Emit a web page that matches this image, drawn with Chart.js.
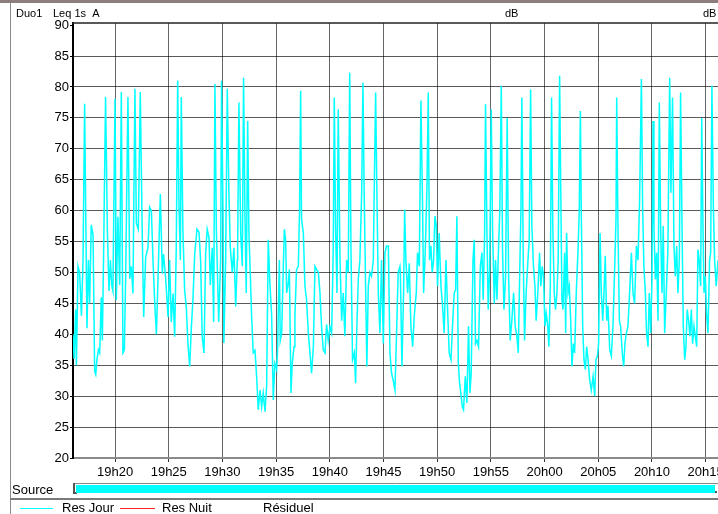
<!DOCTYPE html>
<html><head><meta charset="utf-8">
<script src="https://cdn.jsdelivr.net/npm/chart.js@4"></script>
<style>html,body{margin:0;padding:0;background:#fff;overflow:hidden}canvas{display:block}</style>
</head><body>
<canvas id="c" width="718" height="514"></canvas>
<script>
// time of each sample, seconds after 19h00
const seconds = [
965,971,980,984,993,1002,1012,1021,1030,1036,1043,1051,1058,1067,1077,1086,1092,1099,1107,1114,1123,1129,1136,1147,1157,1166,1174,1181,1188,1200,1207,1216,1226,1235,1244,1252,1259,1272,1282,1291,1300,1311,1319,1330,1341,1352,1360,1371,1384,1393,1403,1412,1421,1431,1440,1453,1464,1471,1483,1496,1505,1514,1524,1533,1542,1550,1557,1565,1570,1579,1589,1598,1607,1617,1626,1635,1645,1658,1669,1678,1687,1697,1706,1715,1725,1732,1743,1751,1758,1766,1779,1790,1795,1803,1808,1818,1827,1836,1844,1855,1864,1874,1883,
1885,1892,1902,1911,1918,1926,1933,1941,1948,1956,1963,1972,1982,1991,2000,2010,2019,2028,2038,2047,2056,2066,2075,2084,2093,2103,2108,2118,2123,2131,2140,2146,2153,2159,2168,2174,2183,2190,2200,2205,2214,2224,2231,2237,2242,2252,2261,2270,2280,2289,2298,2308,2317,2326,2336,2345,2354,2363,2373,2382,2391,2401,2410,2419,2425,2432,2440,2447,2457,2466,2475,2484,2494,2503,2511,2518,2527,2537,2544,2551,2559,2568,2578,2585,2592,2600,2607,2615,2624,2633,2643,2648,2656,2663,2671,2680,2689,2699,2708,2717,2727,2736,2745,2754,2764,2773,2782,2792,
2794,2803,2812,2818,2825,2835,2844,2853,2863,2872,2883,2890,2900,2909,2918,2924,2933,2943,2950,2957,2965,2972,2980,2987,2995,3002,3011,3021,3030,3039,3049,3058,3067,3077,3086,3095,3103,3110,3118,3125,3132,3140,3147,3157,3166,3175,3183,3190,3200,3207,3214,3222,3231,3241,3250,3257,3265,3270,3278,3285,3293,3302,3309,3319,3326,3334,3343,3350,3358,3365,3373,3382,3391,3399,3408,3417,3427,3436,3445,3453,3460,3468,3473,3481,3488,3497,3505,3514,3522,3529,3538,3546,3553,3563,3572,3579,3587,3594,3602,3609,3617,3624,3632,3639,3646,3654,3661,3669,3676,3684,3691,3697,
3703,3712,3718,3723,3731,3738,3746,3753,3761,3768,3777,3787,3794,3800,3805,3813,3820,3828,3835,3843,3852,3861,3871,3880,3887,3895,3902,3910,3917,3925,3932,3939,3947,3954,3964,3973,3982,3992,3999,4003,4010,4018,4025,4034,4042,4049,4057,4066,4075,4085,4094,4103,4113,4122,4131,4141,4148,4155,4163,4170,4178,4185,4193,4200,4206,4211,4219,4226,4234,4241,4249,4256,4263,4271,4280,4289,4299,4306,4315,4323,4330,4338,4345,4353,4360,4368,4375,4383,4390,4397,4405,4412,4420,4427,4435,4442,4450,4457,4464,4472,4478,4485,4491,4498,4505,4513,4522,4528,4535,4543,4550,4559,4569
];
// Leq 1s A, dB
const leqDb = [
40,36,44,35,51,50,43,52,77.3,60,41,52,45,57.7,56,34,33.5,36,37.5,37,46,39,53,78.4,57,47,52,48,47,78.1,45.5,59,48,79.2,37,37.5,48.8,78.4,49,51,46.6,79.7,58,57,79.2,56,42.8,52.5,54,60.6,60,52,45.5,40,49,62.7,49.8,53,49,42.8,52,42,46.6,39.6,54,81,61,52,78.4,57,47,44.5,38.6,34.8,41,45.5,53,57,56.5,52,39.6,37,53,57,55.6,48,54,42,80.5,57,42,52,81,60,38.6,52,79.7,63,54,50,54,44.5,52,
54,77.5,56.4,51,81.5,59,46.7,74.5,56.4,49.4,43,37,37.4,33.2,27.8,31,28.3,30.5,27.5,31.6,55.3,47.8,43,29.4,35.3,34.3,37.5,52,39,40.2,51,57,55.3,46.7,48.3,50.5,30.5,35.3,38,43,50.5,51,60.2,79.4,58.6,56.4,47.8,45.6,40.2,37,33.7,38,51,50.5,50,46.7,41.2,37.5,37,41.6,39,41.2,40.2,53.2,78.3,57.5,46.7,76.4,52,42.2,46.7,39.7,52,50,82.3,54.3,35.9,37,32.1,41.2,48.9,52,62.9,80.7,62.9,47.8,34.8,47.8,50,49.4,52,62.9,79.1,62.9,46.7,40.2,52,38.5,53.2,54.3,54.3,37,33.7,32.6,31,40.2,50,51,
50,34.8,46.7,60.2,52,46.7,51.5,41.3,38,43,46.7,53.2,51,77.8,61.3,46.7,53.2,64,79.1,52,54.3,50,52,59.1,57.5,47.8,56.4,47.8,44.6,40.2,52,44,37,35.9,41.6,46.7,47.2,59.1,35.3,32.1,30.5,28.3,27.8,33.2,28.9,41.3,30.5,33.7,52,55.3,38.5,39,38,51,53.2,45.6,56.4,77.2,56.4,44,50.5,76.4,57.5,45,52,45.6,54.3,60.2,80.2,53.7,44,49.4,75,49.4,39,42.2,46.7,41.3,39.7,37,48.3,60.2,78.3,52,39,46.7,51,55.3,79.6,57.5,51,47.8,42.2,47.2,53.2,47.8,51,49.4,41.3,43.4,41.6,38,47.8,78.3,57.5,46.7,44,46.7,52,81.8,61.8,45.6,
44,53.2,40.2,56.4,46.7,47.8,42.2,34.8,38.5,37,46.7,53.7,60.2,76.1,60.2,41.3,35.9,34.3,38,35.9,32.6,31,33.2,30,35.9,36.5,38.5,56.4,46.7,42.2,46.7,52.7,42.2,44.6,37.5,36.5,41.3,51,58.6,78.3,57.5,42.2,41.3,37,34.8,38.5,40.2,41.3,46.7,53.2,46.7,45,54.3,52,61.8,81.3,60.2,51,46.7,40.2,38,46.7,40.2,48.9,74.5,57.5,48.9,53.2,42.2,77.5,56.4,46.7,57.5,40.2,46.7,53.7,81.5,62.9,78.3,54.3,49.4,54.3,46.7,52,79.1,57.5,41.3,35.9,38,44,42.2,39.7,44,38.5,41.3,39.7,38,53.7,52,47.8,75,57.5,46.7,49.4,43.4,40.2,52,53.2,80.2,60.7,52,47.8,52
];
const xTickLabels = ['19h20','19h25','19h30','19h35','19h40','19h45','19h50','19h55','20h00','20h05','20h10','20h15'];
const yTickValues = [20,25,30,35,40,45,50,55,60,65,70,75,80,85,90];
const seriesNames = ['Res Jour','Res Nuit','Résiduel'];
const seriesColors = ['#00ffff','#ff2020','rgba(0,0,0,0)'];
const timeStart = 965, timeEnd = 4569, dbMin = 20, dbMax = 90.35;

const labelToSec = l => { const [h,m] = l.split('h').map(Number); return (h-19)*3600 + m*60; };
const xTickSeconds = xTickLabels.map(labelToSec);
const n = Math.min(seconds.length, leqDb.length);
const mainData = [];
for (let i=0;i<n;i++) mainData.push({x:seconds[i], y:leqDb[i]});

const FONT = '"Liberation Sans", Arial, sans-serif';
Chart.defaults.font.family = FONT;
Chart.defaults.color = '#000';

const decor = {
  id:'decor',
  beforeDraw(chart){
    const c = chart.ctx; c.save(); c.fillStyle='#fff'; c.fillRect(0,0,chart.width,chart.height); c.restore();
  },
  afterDraw(chart){
    const c = chart.ctx, a = chart.chartArea;
    c.save();
    c.fillStyle='#8c7e7a'; c.fillRect(0,0,718,3);
    c.strokeStyle='#8a8a8a'; c.lineWidth=1;
    c.beginPath(); c.moveTo(10.5,3); c.lineTo(10.5,514); c.stroke();
    c.strokeStyle='#222'; c.lineWidth=1.5;
    c.beginPath(); c.moveTo(a.left-1,a.top); c.lineTo(718,a.top); c.stroke();
    c.fillStyle='#000'; c.textBaseline='middle'; c.textAlign='left';
    c.font='11px '+FONT;
    c.fillText('Duo1',16,14);
    c.fillText('Leq 1s  A',53,14);
    c.fillText('dB',505,14);
    c.fillText('dB',703,14);
    c.font='13px '+FONT;
    c.fillText('Source',12,490);
    c.strokeStyle='#8a8a8a'; c.lineWidth=1;
    c.beginPath(); c.moveTo(73,483.5); c.lineTo(718,483.5); c.stroke();
    c.fillStyle='#555'; c.fillRect(73,483,2,11); c.fillRect(73,492,4,2);
    c.fillStyle='#00ffff'; c.fillRect(76,485,639,8);
    c.fillStyle='#555'; c.fillRect(715,491,2,2);
    c.strokeStyle='#7a7a7a'; c.lineWidth=2;
    c.beginPath(); c.moveTo(10,499); c.lineTo(718,499); c.stroke();
    const lx = [[20,53,62],[120,155,162],[210,250,263]];
    chart.data.datasets.forEach((d,i)=>{
      const [x1,x2,tx] = lx[i];
      c.strokeStyle=d.borderColor; c.lineWidth=1;
      c.beginPath(); c.moveTo(x1,508.5); c.lineTo(x2,508.5); c.stroke();
      c.fillStyle='#000'; c.font='13px '+FONT; c.textBaseline='middle';
      c.fillText(d.label,tx,508);
    });
    c.restore();
  }
};

new Chart(document.getElementById('c'), {
  type:'line',
  data:{datasets:[
    {label:seriesNames[0], data:mainData, borderColor:seriesColors[0], borderWidth:1.5, pointRadius:0, tension:0, fill:false},
    {label:seriesNames[1], data:[], borderColor:seriesColors[1], borderWidth:1, pointRadius:0},
    {label:seriesNames[2], data:[], borderColor:seriesColors[2], borderWidth:1, pointRadius:0}
  ]},
  options:{
    responsive:false, animation:false, devicePixelRatio:1,
    layout:{padding:{top:23,left:0,right:0,bottom:0}},
    plugins:{legend:{display:false}, tooltip:{enabled:false}},
    scales:{
      x:{type:'linear', min:timeStart, max:timeEnd,
        afterBuildTicks:s=>{ s.ticks = xTickSeconds.map(v=>({value:v})); },
        afterFit:s=>{ s.height = 56; s.paddingLeft=0; s.paddingRight=0; },
        grid:{color:'rgba(0,0,0,0.6)', lineWidth:1, tickLength:4, tickColor:'#333'},
        border:{color:'#8a8a8a', width:2},
        ticks:{font:{size:13}, color:'#000', maxRotation:0, autoSkip:false, padding:3,
          callback:(v)=>{ const i = xTickSeconds.indexOf(v); return i>=0 ? xTickLabels[i] : ''; }}
      },
      y:{min:dbMin, max:dbMax,
        afterBuildTicks:s=>{ s.ticks = yTickValues.map(v=>({value:v})); },
        afterFit:s=>{ s.width = 73; s.paddingTop=0; s.paddingBottom=0; },
        grid:{color:c=>(c.tick && c.tick.value===90)?'rgba(0,0,0,0)':'rgba(0,0,0,0.65)', lineWidth:1, tickLength:3, tickColor:'#000'},
        border:{color:'#000', width:2},
        ticks:{font:{size:13}, color:'#000', padding:1}
      }
    }
  },
  plugins:[decor]
});
</script>
</body></html>
